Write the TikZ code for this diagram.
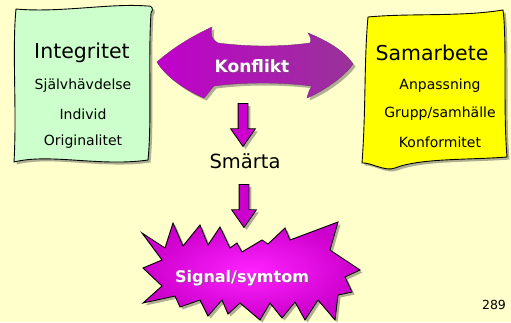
\documentclass[tikz,border=0pt]{standalone}
\usepackage{fontspec}
\setmainfont{DejaVu Sans}
\usetikzlibrary{shapes.arrows,shadows,calc}
\definecolor{bg}{HTML}{FFFFCC}
\definecolor{paleg}{HTML}{CCFFCC}
\definecolor{brightY}{HTML}{FFFF00}
\definecolor{mag}{HTML}{CC00CC}
\definecolor{magL}{HTML}{FF22FF}
\definecolor{purpL}{HTML}{C000CC}
\definecolor{purpR}{HTML}{993399}
\begin{document}
\begin{tikzpicture}[x=1pt,y=-1pt,
  dshadow/.style={drop shadow={shadow xshift=2.5pt,shadow yshift=-2.5pt,opacity=0.45,fill=black!70}},
  paper/.style={draw=black,line width=0.9pt,dshadow},
  title/.style={font=\fontsize{20.5}{24}\selectfont},
  item/.style={font=\fontsize{14}{17}\selectfont},
  whitelabel/.style={text=white,font=\bfseries\fontsize{17}{20}\selectfont},
  fatdown/.style={single arrow,shape border rotate=270,draw=black,line width=0.8pt,
    fill=mag,inner sep=4.5pt,single arrow head extend=7.5pt,single arrow tip angle=70,
    minimum height=43pt,dshadow}]
\useasboundingbox (0,0) rectangle (511,322);
\fill[bg] (0,0) rectangle (511,322);

% left sheet
\path[paper,fill=paleg] (16,9) .. controls (60,13) and (110,3) .. (147,6)
  .. controls (152,5) and (154,9) .. (151,13)
  .. controls (148,60) and (152,120) .. (148,160)
  .. controls (100,167) and (50,153) .. (14,162)
  .. controls (17,110) and (12,50) .. (16,9) -- cycle;
\node[title] (integ) at (82,53) {Integritet};
\node[item] (sjalv) at (83,86) {Självhävdelse};
\node[item] (indiv) at (83,114) {Individ};
\node[item] (orig) at (83,142) {Originalitet};

% right sheet
\path[paper,fill=brightY] (368,17) .. controls (410,13) and (460,17) .. (503,10)
  .. controls (507,40) and (503,110) .. (507,157)
  .. controls (470,160) and (420,158) .. (395,168)
  .. controls (385,172) and (370,162) .. (362,163)
  .. controls (366,110) and (364,60) .. (368,17) -- cycle;
\node[title] (samar) at (432,53) {Samarbete};
\node[item] (anpas) at (440,86) {Anpassning};
\node[item] (grupp) at (440,114) {Grupp/samhälle};
\node[item] (konf) at (440,142) {Konformitet};

% double-headed conflict arrow
\path[dshadow,left color=purpL,right color=purpR,draw=purpR!80!black,line width=0.4pt]
  (157,62) .. controls (175,46) and (195,35) .. (212,27)
  .. controls (210,35) and (212,40) .. (218,43)
  .. controls (250,47) and (280,47) .. (310,43)
  .. controls (312,40) and (310,36) .. (308,33)
  .. controls (330,42) and (345,52) .. (353,64)
  .. controls (348,72) and (330,88) .. (307,98)
  .. controls (308,94) and (309,90) .. (312,86)
  .. controls (280,82) and (245,82) .. (214,86)
  .. controls (210,90) and (208,94) .. (204,98)
  .. controls (185,90) and (165,76) .. (157,62) -- cycle;
\node[whitelabel,text=black!60,opacity=0.5] at (253.2,67.2) {Konflikt};
\node[whitelabel] (konflikt) at (252,66) {Konflikt};

\node[font=\fontsize{19.5}{23}\selectfont] (smarta) at (245,161) {Smärta};

% starburst
\path[dshadow,draw=black,line width=0.9pt,inner color=magL,outer color=mag]
  (142,233) -- (165,248) -- (173,223) -- (183,246) -- (200,225) -- (208,245)
  -- (220,227) -- (230,248) -- (237,243) -- (242,252) -- (262,240) -- (268,244)
  -- (285,228) -- (290,240) -- (338,222) -- (330,250) -- (360,270) -- (345,277)
  -- (352,292) -- (338,295) -- (335,320) -- (318,300) -- (305,320) -- (295,302)
  -- (282,318) -- (270,303) -- (260,320) -- (240,303) -- (228,314) -- (222,300)
  -- (208,316) -- (200,300) -- (180,307) -- (175,296) -- (143,303) -- (162,286)
  -- (143,268) -- (162,260) -- cycle;
\node[whitelabel,font=\bfseries\fontsize{16}{19}\selectfont,text=black!60,opacity=0.5] at (243.2,279.2) {Signal/symtom};
\node[whitelabel,font=\bfseries\fontsize{16}{19}\selectfont] (signal) at (242,278) {Signal/symtom};

% downward block arrows
\coordinate (kbot) at (243,100);
\coordinate (bursttop) at (244,224);
\path (kbot) -- ($(kbot)+(0,43)$) node[midway,fatdown] (a1) {};
\path ($(bursttop)+(0,-43)$) -- (bursttop) node[midway,fatdown] (a2) {};

\node[font=\fontsize{12.5}{15}\selectfont] (page) at (494,305) {289};
\end{tikzpicture}
\end{document}
